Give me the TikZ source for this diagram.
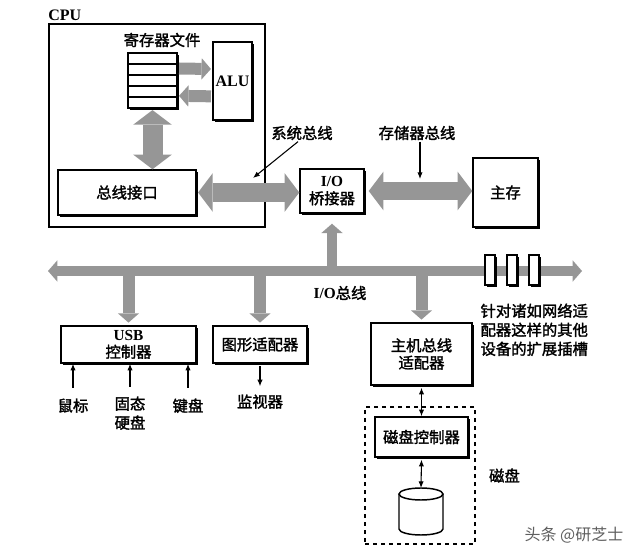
\documentclass[tikz,border=0pt]{standalone}
\usepackage{fontspec}
\setmainfont{Liberation Serif}
\newfontfamily\cjk{Noto Sans CJK SC}[FakeBold=1.8]
\newfontfamily\cjklight{Noto Sans CJK SC}
\usetikzlibrary{arrows.meta,positioning,shadows}
\definecolor{busgray}{RGB}{150,150,150}
\definecolor{markgray}{RGB}{95,95,95}

\begin{document}
\begin{tikzpicture}[x=0.75pt, y=-0.75pt,
  >={Latex[length=5pt,width=4pt]},
  BigTip/.tip={Triangle[length=11pt,width=29pt,line width=0pt]},
  DropTip/.tip={Triangle[length=7pt,width=16pt,line width=0pt]},
  zh/.style={font=\fontsize{11.5}{14.25}\selectfont\cjk},
  tightzh/.style={font=\fontsize{11.5}{13}\selectfont\cjk},
  en/.style={font=\fontsize{12}{14.25}\selectfont\rmfamily\bfseries},
  zh, lbl/.style={align=center, inner sep=1pt},
  sz/.style 2 args={minimum width=#1*0.75pt, minimum height=#2*0.75pt},
  box/.style={draw, line width=1.1pt, fill=white, inner sep=0pt, align=center,
              drop shadow={shadow xshift=1.6pt, shadow yshift=-1.6pt, fill=black, opacity=1}},
  fat/.style={draw=busgray, line width=#1}]
\useasboundingbox (0,0) rectangle (640,556);
\node[draw, line width=1.3pt, inner sep=0pt, sz={216}{203}] (cpu) at (157,125.5) {};
\node[en, lbl, above right=1pt and -1pt of cpu.north west] (cpulbl) {CPU};
\node[box, sz={49}{55}] (regs) at (152.5,80.5) {};
\foreach \y in {64,75,86,97} \draw[line width=0.8pt] (128,\y) -- (177,\y);
\node[lbl] (regslbl) at (162,40) {寄存器文件};
\node[box, en, sz={39}{78}] (alu) at (232.5,81) {ALU};
\node[box, sz={138}{45}] (bi) at (127,192.5) {总线接口};
\node[box, tightzh, sz={64}{44}] (bridge) at (332,191) {{\rmfamily\bfseries I/O}\\桥接器};
\node[box, sz={65}{69}] (mem) at (505.5,192.5) {主存};
\node[box, tightzh, sz={135}{37}] (usb) at (128.5,344.5) {{\rmfamily\bfseries USB}\\控制器};
\node[box, sz={94}{37}] (gfx) at (260,344.5) {图形适配器};
\node[box, tightzh, sz={101}{62}] (hba) at (421.5,354) {主机总线\\适配器};
\node[draw, dashed, line width=0.8pt, inner sep=0pt, sz={110}{137}] (diskunit) at (420,475.5) {};
\node[box, sz={93}{40}] (dctl) at (421.5,437) {磁盘控制器};
\node[lbl, right=9pt of diskunit] (disklbl) {磁盘};
\coordinate (platter) at (421,488);
\draw[line width=1.1pt, fill=white] (399,494) -- (399,529)
  arc[start angle=180, end angle=360, x radius=16.5pt, y radius=4.5pt] -- (443,494);
\draw[line width=1.1pt] (421,494) ellipse[x radius=16.5pt, y radius=4.5pt];
\draw[fat=9pt, -DropTip] ([xshift=1pt, yshift=9pt]regs.east) -- ([xshift=-1pt, yshift=9pt]alu.west);
\draw[fat=9pt, -DropTip] ([xshift=-1pt, yshift=-11.5pt]alu.west) -- ([xshift=1pt, yshift=-11.5pt]regs.east);
\draw[fat=15pt, BigTip-BigTip] ([yshift=-1pt]regs.south) -- (regs.south |- bi.north);
\draw[fat=14pt, BigTip-BigTip] ([xshift=1pt]bi.east) -- (bi.east -| bridge.west);
\draw[fat=14pt, BigTip-BigTip] ([xshift=3pt]bridge.east) -- (bridge.east -| mem.west);
\node[lbl] (sysbus) at (302,133) {系统总线};
\coordinate (sbpt) at (253,178);
\draw[->, line width=0.8pt] ([xshift=-3pt]sysbus.south) -- (sbpt);
\node[lbl] (membus) at (417,133) {存储器总线};
\coordinate (mbpt) at (420,179);
\draw[->, line width=0.8pt] (membus.south -| mbpt) -- (mbpt);
\coordinate (busL) at (48,271);
\coordinate (busR) at (582,271);
\draw[fat=8pt, -DropTip] (bridge.south |- busL) -- ([yshift=-7.5pt]bridge.south);
\draw[fat=9pt, -DropTip] (usb.north |- busL) -- ([yshift=2pt]usb.north);
\draw[fat=9pt, -DropTip] (gfx.north |- busL) -- ([yshift=2pt]gfx.north);
\draw[fat=9pt, -DropTip] (hba.north |- busL) -- ([yshift=2pt]hba.north);
\draw[fat=8pt, DropTip-DropTip] (busL) -- (busR);
\foreach \x [count=\i] in {490,512,534}
  \node[box, line width=0.8pt, sz={10}{30}] (slot\i) at (\x,270) {};
\node[lbl] (iobus) at (340,293) {{\rmfamily\bfseries I/O}总线};
\node[lbl, align=left, anchor=north west] (slotnote) at (479,302) {针对诸如网络适\\配器这样的其他\\设备的扩展插槽};
\node[lbl, anchor=north] (mouse) at (73,397) {鼠标};
\node[lbl, anchor=north] (ssd) at (130,395) {固态\\硬盘};
\node[lbl, anchor=north] (kbd) at (188,397) {键盘};
\node[lbl, anchor=north] (monitor) at (260,393) {监视器};
\draw[->, line width=0.8pt] ([yshift=7pt]mouse.north) -- (mouse.north |- usb.south);
\draw[->, line width=0.8pt] ([yshift=6pt]ssd.north) -- (ssd.north |- usb.south);
\draw[->, line width=0.8pt] ([yshift=7pt]kbd.north) -- (kbd.north |- usb.south);
\draw[->, line width=0.8pt] ([yshift=-2pt]gfx.south) -- ([yshift=5pt]monitor.north);
\draw[<->, line width=0.8pt] ([yshift=-1.5pt]hba.south) -- (dctl.north);
\draw[<->, line width=0.8pt] ([yshift=-1.5pt]dctl.south) -- (platter);
\node[lbl, text=markgray, font=\fontsize{12}{14}\selectfont\cjklight] (mark) at (574,535) {头条 @研芝士};
\end{tikzpicture}
\end{document}
